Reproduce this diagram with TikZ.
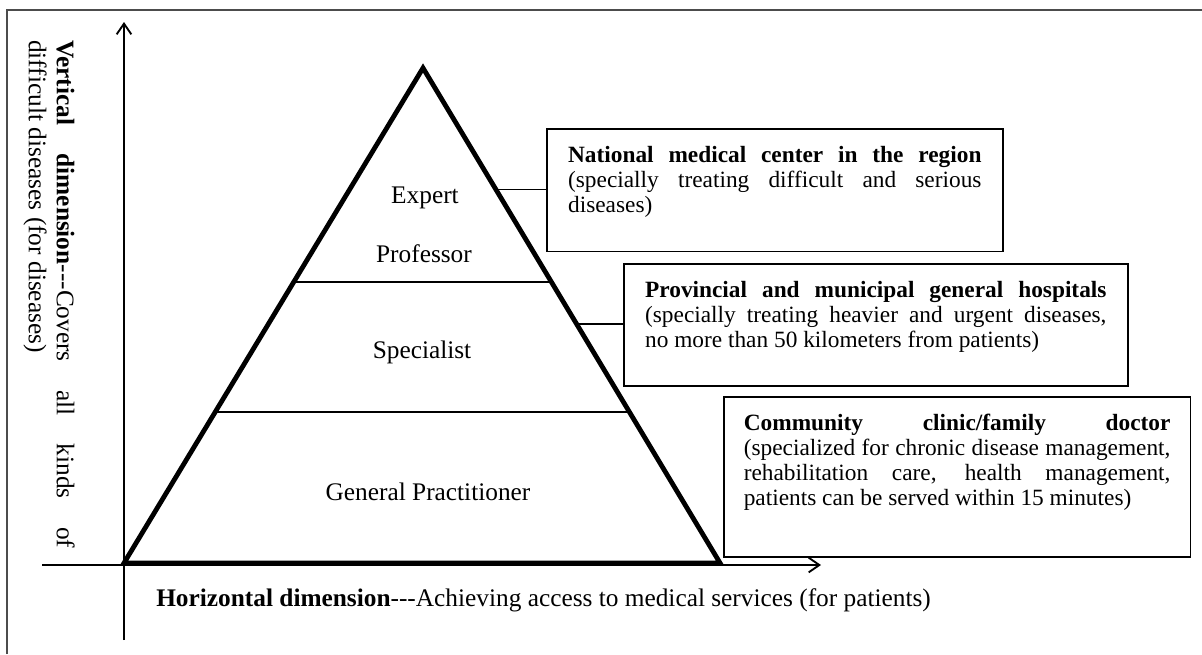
\documentclass[tikz,border=0pt]{standalone}
\usepackage{fontspec}
\setmainfont{Liberation Serif}
\usetikzlibrary{arrows.meta,calc,positioning}
\tikzset{
    infobox/.style = {draw, line width=1.2pt, anchor=north west,
        inner xsep=16pt, inner ysep=13pt,
        font=\fontsize{17.5}{18.8}\selectfont},
    level/.style = {font=\fontsize{19}{18.8}\selectfont},
    axis/.style = {draw, line width=1.2pt, -{Straight Barb[length=8pt,width=11pt,line width=1.4pt]}},
    pyramid/.style = {draw, line width=3.6pt},
    divider/.style = {draw, line width=1.2pt},
    link/.style = {draw, line width=1.1pt},
    frame/.style = {draw, line width=1.6pt, gray!60!black}
}
\newcommand{\boxtext}[3]{\parbox[t][#1][t]{#2}{\hyphenpenalty=10000\exhyphenpenalty=10000 #3}}

\begin{document}
\begin{tikzpicture}[x=0.75pt, y=-0.75pt]
    \useasboundingbox (0,0) rectangle (1202,654);
    % frame of the figure
    \draw [frame] (7,654) -- (7,10) -- (1202,10);
    % axes
    \coordinate (vbot) at (124,640);
    \coordinate (vtop) at (124,22);
    \coordinate (hleft) at (42,565);
    \coordinate (hright) at (821,565);
    \draw [axis] (vbot) -- (vtop);
    \draw [axis] (hleft) -- (hright);
    % pyramid
    \coordinate (top) at (423,68);
    \coordinate (bl) at (124,563);
    \coordinate (br) at (720,563);
    \draw [divider] ($(top)!0.432!(bl)$) -- ($(top)!0.432!(br)$);
    \draw [divider] ($(top)!0.695!(bl)$) -- ($(top)!0.695!(br)$);
    \draw [pyramid] (bl) -- (top) -- (br) -- cycle;
    \node [level] (expert) at (425,198) {Expert};
    \node [level] (prof) at (424,254) {Professor};
    \node [level] (spec) at (422,352) {Specialist};
    \node [level] (gp) at (428,492) {General Practitioner};
    % boxes on the right
    \node [infobox] (nat) at (546,128) {\boxtext{66pt}{310pt}{\textbf{National medical center in the region}\linebreak
        (specially treating difficult and serious\linebreak diseases)}};
    \node [infobox] (prov) at (623,263) {\boxtext{65.5pt}{346pt}{\textbf{Provincial and municipal general hospitals}\linebreak
        (specially treating heavier and urgent diseases,\linebreak no more than 50 kilometers from patients)}};
    \node [infobox, inner xsep=15pt] (comm) at (723,396) {\boxtext{94pt}{320pt}{\textbf{Community clinic/family doctor}\linebreak
        (specialized for chronic disease management,\linebreak rehabilitation care, health management,\linebreak
        patients can be served within 15 minutes)}};
    \coordinate (e1) at ($(top)!0.245!(br)$);
    \coordinate (e2) at ($(top)!0.517!(br)$);
    \draw [link] (e1) -- (e1 -| nat.west);
    \draw [link] (e2) -- (e2 -| prov.west);
    % axis labels
    \node [rotate=-90, anchor=north west, inner sep=0pt, text width=381pt, align=justify,
        font=\fontsize{19}{21}\selectfont] (vlabel) at (75,40)
        {\textbf{Vertical dimension}-{}-{}-Covers all kinds of\linebreak difficult diseases (for diseases)};
    \node [anchor=west, inner sep=0pt, font=\fontsize{19}{18.8}\selectfont] (hlabel) at (156,600)
        {\textbf{Horizontal dimension}-{}-{}-Achieving access to medical services (for patients)};
\end{tikzpicture}
\end{document}
